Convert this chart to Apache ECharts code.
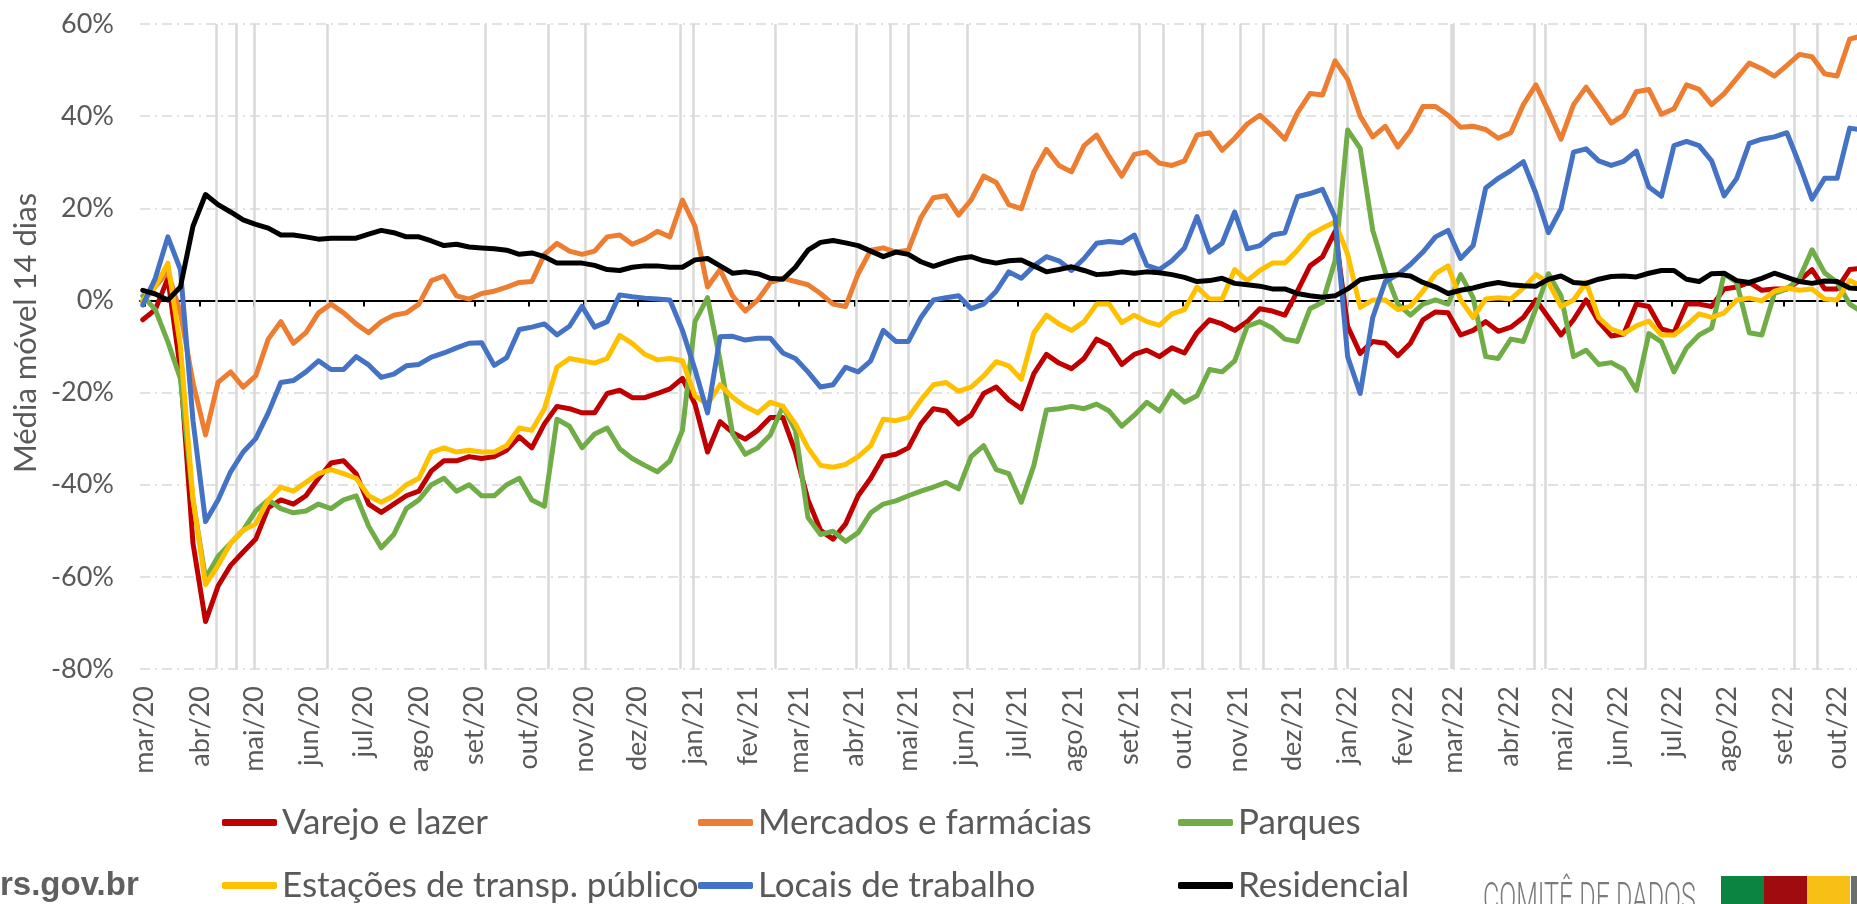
<!DOCTYPE html>
<html>
<head>
<meta charset="utf-8">
<title>Mobilidade RS - média móvel 14 dias</title>
<script src="https://cdn.jsdelivr.net/npm/echarts@6.0.0/dist/echarts.min.js"></script>
<style>
  html, body { margin: 0; padding: 0; background: #fff; }
  #grafico { width: 1857px; height: 904px; }
</style>
</head>
<body>
<div id="grafico"></div>
<script>
// primeira data da média móvel e espaçamento (semanal) dos pontos lidos
const inicio = '2020-02-29';
const passoDias = 7;

const rotulosMeses = ['mar/20', 'abr/20', 'mai/20', 'jun/20', 'jul/20', 'ago/20', 'set/20', 'out/20', 'nov/20', 'dez/20',
  'jan/21', 'fev/21', 'mar/21', 'abr/21', 'mai/21', 'jun/21', 'jul/21', 'ago/21', 'set/21', 'out/21', 'nov/21', 'dez/21',
  'jan/22', 'fev/22', 'mar/22', 'abr/22', 'mai/22', 'jun/22', 'jul/22', 'ago/22', 'set/22', 'out/22'];

// feriados (linhas verticais cinzas)
const feriados = ['2020-04-10', '2020-04-21', '2020-05-01', '2020-06-11', '2020-09-07', '2020-10-12', '2020-11-02',
  '2020-12-25', '2021-01-01', '2021-02-16', '2021-04-02', '2021-04-21', '2021-05-01', '2021-06-03', '2021-09-07',
  '2021-09-20', '2021-10-12', '2021-11-02', '2021-11-15', '2021-12-25', '2022-01-01', '2022-02-28', '2022-03-01',
  '2022-04-15', '2022-04-21', '2022-06-16', '2022-09-07', '2022-09-20'];

const varejo = [-4.2, -2, 4.8, -15, -52.7, -69.7, -62, -57.5, -54.6, -51.8, -45, -43.3, -44.2, -42.4, -38.6, -35.3,
  -34.8, -37.6, -44.2, -46, -44.2, -42.4, -41.4, -37, -34.8, -34.8, -33.9, -34.3, -33.9, -32.5, -29.6, -32,
  -26.8, -23, -23.5, -24.4, -24.4, -20.2, -19.5, -21.1, -21.1, -20.2, -19.2, -16.9, -22.5, -32.9, -26.3, -28.7,
  -30.1, -28.2, -25.4, -25.4, -32.9, -43.3, -49.9, -51.8, -48.5, -42.4, -38.6, -33.9, -33.4, -32, -26.8, -23.5,
  -24, -26.8, -24.9, -20.2, -18.8, -21.6, -23.5, -15.9, -11.7, -13.6, -14.8, -12.6, -8.4, -9.8, -13.9, -11.7,
  -10.8, -12.2, -10.3, -11.4, -7, -4.2, -5.1, -6.5, -4.6, -1.8, -2.3, -3.2, 2, 7.5, 9.5, 15, -5.6, -11.5,
  -8.9, -9.3, -12, -9.3, -4.2, -2.5, -2.7, -7.5, -6.5, -4.6, -6.7, -5.8, -3.7, 0.1, -3.7, -7.5, -4.2, 0.1,
  -4.6, -7.7, -7.3, -0.8, -1.3, -6.2, -7, -0.8, -0.8, -1.3, 2.5, 2.9, 3.9, 2.2, 2.5, 2.5, 4.3, 6.7, 2.5, 2.5,
  6.7, 7];

const mercados = [-0.4, 3, 6.2, -2.7, -17.8, -29.2, -17.8, -15.5, -18.8, -16.4, -8.4, -4.6, -9.3, -7, -2.7, -0.8,
  -2.7, -5.1, -7, -4.6, -3.2, -2.7, -0.8, 4.3, 5.3, 1, 0.3, 1.5, 2, 2.9, 3.9, 4.1, 10, 12.4, 10.7, 10, 10.7,
  13.8, 14.2, 12.2, 13.3, 15, 13.8, 21.8, 16.1, 2.9, 6.7, 1, -2.3, 0.1, 3.9, 4.8, 4.1, 3.4, 1.5, -0.8, -1.3,
  5.8, 10.9, 11.4, 10.5, 10.9, 18, 22.3, 22.7, 18.5, 21.8, 27, 25.6, 20.8, 19.9, 27.9, 32.8, 29.3, 27.9, 33.6,
  35.9, 31.2, 27, 31.7, 32.2, 29.8, 29.3, 30.3, 35.9, 36.4, 32.6, 35.2, 38.3, 40.2, 37.8, 35, 40.7, 44.9, 44.6,
  52, 48, 40, 35.5, 37.8, 33.3, 36.9, 42.1, 42.1, 40.2, 37.6, 37.8, 37.1, 35.2, 36.4, 42.5, 46.8, 41.1, 35,
  42.5, 46.3, 42.5, 38.5, 40.2, 45.3, 45.8, 40.4, 41.6, 46.8, 45.8, 42.5, 44.9, 48.2, 51.5, 50.3, 48.7, 51,
  53.4, 52.9, 49.2, 48.7, 56.7, 57.5];

const parques = [1, -2, -9, -17, -43.3, -60.3, -55.6, -52.7, -49.9, -45.7, -43.3, -45.2, -46.1, -45.7, -44.2, -45.2,
  -43.3, -42.4, -49, -53.7, -50.8, -45.2, -43.3, -40, -38.6, -41.4, -40, -42.4, -42.4, -40, -38.6, -43.3,
  -44.7, -25.8, -27.3, -32, -29, -27.7, -32.2, -34.3, -35.8, -37.2, -34.8, -28.2, -4.6, 0.6, -13.1, -29,
  -33.4, -32, -29.2, -23, -28.2, -47.1, -50.8, -50.1, -52.3, -50.4, -46.1, -44.2, -43.5, -42.4, -41.4, -40.5,
  -39.5, -40.9, -33.9, -31.5, -36.7, -37.6, -43.8, -35.8, -23.8, -23.5, -23, -23.5, -22.5, -24, -27.3, -24.9,
  -22.1, -24, -19.7, -22.1, -20.7, -15, -15.5, -13.1, -5.6, -4.6, -6, -8.4, -8.9, -1.8, -0.4, 8.6, 37, 33,
  15.2, 6.2, -0.8, -3.2, -0.8, 0.1, -0.8, 5.6, 0.6, -12.2, -12.6, -8.4, -8.9, -1.8, 5.8, 1, -12.2, -10.8,
  -13.9, -13.5, -15, -19.5, -7.2, -9, -15.5, -10.3, -7.5, -6, 5.8, 3.9, -7, -7.5, 1.5, 2.5, 4.8, 11, 6, 3.9,
  -0.8, -2.5];

const estacoes = [0, 3, 8.1, -10, -43, -61.7, -57.5, -52.7, -49.9, -48.5, -43.3, -40.5, -41.4, -39.5, -37.6, -36.7,
  -37.6, -38.6, -42.4, -43.8, -42.4, -40, -38.6, -33, -32, -32.9, -32.5, -32.9, -32.9, -31.5, -27.7, -28.2,
  -23.5, -14.5, -12.6, -13.1, -13.6, -12.6, -7.6, -9.3, -11.7, -12.9, -12.6, -13.1, -20.7, -22.5, -18.3, -21,
  -23, -24.4, -22.1, -23, -26.8, -32, -35.8, -36.2, -35.6, -33.9, -31.5, -25.8, -26.1, -25.4, -21.6, -18.3,
  -17.8, -19.7, -18.8, -16.4, -13.3, -14.2, -17.1, -7, -3.2, -5.1, -6.5, -4.6, -0.8, -0.8, -4.8, -3.2, -4.6,
  -5.4, -2.9, -2, 2.9, 0.3, 0.3, 6.7, 4.3, 6.5, 8.1, 8.1, 10.9, 14.2, 15.7, 17, 10, -1.5, 0.1, 0.1, -2, -1.3,
  2, 5.8, 7.5, 0.1, -3.7, 0.3, 0.6, 0.3, 2.7, 5.6, 3.9, -1.3, 0.1, 3.9, -3.7, -6.2, -7.2, -5.5, -4.5, -7.5,
  -7.5, -5.4, -2.9, -3.7, -2.7, 0.1, 0.5, -0.1, 2, 2.7, 2.2, 2.5, 0.3, 0.1, 4.3, 3];

const locais = [-1, 4.8, 13.8, 6.7, -26, -48, -43.3, -37.2, -32.9, -30, -24.4, -17.8, -17.4, -15.5, -13.1, -15, -15,
  -12.2, -14, -16.7, -16, -14.2, -13.9, -12.3, -11.4, -10.3, -9.3, -9.2, -14.1, -12.4, -6.3, -5.8, -5.1, -7.5,
  -5.6, -1.3, -5.8, -4.6, 1.2, 0.8, 0.5, 0.3, 0.1, -6.5, -15, -24.4, -7.9, -7.8, -8.6, -8.2, -8.2, -11.4,
  -12.6, -15.5, -18.8, -18.3, -14.5, -15.5, -13.1, -6.5, -8.9, -8.9, -3.7, 0.1, 0.6, 1, -1.8, -0.8, 2, 6.2,
  4.8, 7.5, 9.5, 8.6, 6.5, 9.1, 12.4, 12.8, 12.5, 14.2, 7.6, 6.7, 8.6, 11.4, 18.2, 10.5, 12.4, 19.2, 11.2,
  11.9, 14.2, 14.7, 22.5, 23.2, 24.1, 18, -12.2, -20.2, -3.7, 4.1, 5.6, 7.8, 10.5, 13.8, 15.2, 9.1, 11.9,
  24.4, 26.5, 28.2, 30.1, 23.2, 14.7, 19.9, 32.2, 32.9, 30.3, 29.3, 30.2, 32.4, 24.6, 22.6, 33.6, 34.5, 33.6,
  30.3, 22.7, 26.5, 34.1, 35, 35.5, 36.4, 29.5, 22, 26.5, 26.5, 37.4, 37];

const residencial = [2.2, 1.4, 0.1, 2.9, 16.1, 23, 20.8, 19.2, 17.5, 16.5, 15.7, 14.2, 14.2, 13.8, 13.3, 13.5, 13.5,
  13.5, 14.4, 15.2, 14.7, 13.8, 13.8, 12.9, 11.9, 12.2, 11.6, 11.4, 11.2, 10.9, 10, 10.3, 9.5, 8.1, 8.1, 8.1,
  7.6, 6.7, 6.5, 7.2, 7.5, 7.5, 7.2, 7.2, 8.8, 9.1, 7.5, 5.9, 6.2, 5.8, 4.8, 4.6, 7.2, 10.9, 12.6, 13, 12.5,
  11.9, 10.7, 9.5, 10.5, 10, 8.4, 7.4, 8.3, 9.1, 9.5, 8.6, 8.1, 8.6, 8.8, 7.5, 6.2, 6.7, 7.3, 6.5, 5.6, 5.8,
  6.2, 5.9, 6.2, 6, 5.6, 5, 4.1, 4.3, 4.8, 3.7, 3.4, 3.1, 2.5, 2.5, 1.5, 1, 0.7, 1, 2.5, 4.5, 5, 5.3, 5.6,
  5.3, 3.9, 2.9, 1.5, 2.2, 2.7, 3.4, 3.9, 3.4, 3.2, 3.1, 4.6, 5.3, 3.9, 3.7, 4.6, 5.2, 5.3, 5.1, 5.9, 6.5,
  6.5, 4.6, 4.1, 5.8, 5.9, 4.3, 3.9, 4.8, 5.9, 5, 4.1, 3.7, 4.2, 4.1, 2.7, 2.5];

const nomes = ['Varejo e lazer', 'Mercados e farmácias', 'Parques',
  'Estações de transp. público', 'Locais de trabalho', 'Residencial'];
const cores = ['#C00000', '#ED7D31', '#70AD47', '#FFC000', '#4472C4', '#000000'];
const valores = [varejo, mercados, parques, estacoes, locais, residencial];

const mesesPt = { jan: 0, fev: 1, mar: 2, abr: 3, mai: 4, jun: 5, jul: 6, ago: 7, set: 8, out: 9, nov: 10, dez: 11 };
const DIA = 864e5;

function dataUTC(s) {
  const p = s.split('-');
  return Date.UTC(+p[0], +p[1] - 1, +p[2]);
}

const ticksMes = rotulosMeses.map(function (r) {
  const partes = r.split('/');
  return Date.UTC(2000 + Number(partes[1]), mesesPt[partes[0]], 1);
});

const datas = varejo.map(function (_, i) { return dataUTC(inicio) + i * passoDias * DIA; });

// janela do eixo (o gráfico original está cortado na borda direita)
const xMin = Date.UTC(2020, 1, 27, 11);
const xMax = Date.UTC(2022, 9, 12, 2);

function rotuloDoTick(v) {
  let melhor = 0;
  for (let i = 1; i < ticksMes.length; i++) {
    if (Math.abs(ticksMes[i] - v) < Math.abs(ticksMes[melhor] - v)) melhor = i;
  }
  return rotulosMeses[melhor];
}

const corTexto = '#595959';
const posLegenda = [[222, 805], [698, 805], [1178, 805], [222, 868], [698, 868], [1178, 868]];

const chart = echarts.init(document.getElementById('grafico'));

const series = valores.map(function (vals, i) {
  const s = {
    name: nomes[i],
    type: 'line',
    xAxisIndex: 0,
    showSymbol: false,
    symbol: 'none',
    lineStyle: { color: cores[i], width: 5, join: 'round', cap: 'round' },
    itemStyle: { color: cores[i] },
    data: vals.map(function (v, k) { return [datas[k], v]; })
  };
  if (i === 0) {
    s.markLine = {
      silent: true,
      z: 1,
      symbol: 'none',
      label: { show: false },
      lineStyle: { color: '#D9D9D9', width: 2.5, type: 'solid' },
      data: feriados.map(function (d) { return { xAxis: dataUTC(d) }; })
    };
  }
  return s;
});

// eixo x numérico (milissegundos) com ticks mensais fixos
const option = {
  animation: false,
  backgroundColor: '#fff',
  grid: { left: 140, right: 0, top: 24, bottom: 235, containLabel: false },
  xAxis: [
    {
      type: 'value',
      min: xMin,
      max: xMax,
      axisLine: { show: false, onZero: false },
      axisTick: { show: false },
      splitLine: { show: false },
      axisLabel: {
        customValues: ticksMes,
        rotate: 90,
        margin: 17,
        color: corTexto,
        fontFamily: 'Lato',
        fontSize: 27,
        formatter: rotuloDoTick
      }
    },
    {
      type: 'value',
      min: xMin,
      max: xMax,
      position: 'bottom',
      axisLine: { show: true, onZero: true, lineStyle: { color: '#000', width: 2 } },
      axisTick: { show: true, customValues: ticksMes, length: 6, lineStyle: { color: '#000', width: 2 } },
      axisLabel: { show: false },
      splitLine: { show: false }
    }
  ],
  yAxis: {
    type: 'value',
    min: -80,
    max: 60,
    interval: 20,
    axisLine: { show: false },
    axisTick: { show: false },
    axisLabel: {
      formatter: '{value}%',
      color: corTexto,
      fontFamily: 'Lato',
      fontSize: 27,
      margin: 26
    },
    splitLine: { lineStyle: { color: '#D9D9D9', width: 1.5, type: [10, 5, 2, 5] } }
  },
  legend: nomes.map(function (n, i) {
    return {
      data: [n],
      left: posLegenda[i][0],
      top: posLegenda[i][1],
      padding: 0,
      icon: 'roundRect',
      itemWidth: 55,
      itemHeight: 7,
      selectedMode: false,
      textStyle: { color: corTexto, fontFamily: 'Lato', fontSize: 35 }
    };
  }),
  graphic: [
    {
      type: 'text', x: 26, y: 333, rotation: Math.PI / 2,
      style: { text: 'Média móvel 14 dias', fill: corTexto, font: '31px Lato', align: 'center', verticalAlign: 'middle' }
    },
    {
      type: 'text', x: 0, y: 886,
      style: { text: 'rs.gov.br', fill: '#5f5f5f', font: 'bold 33px "Liberation Sans"', align: 'left', verticalAlign: 'middle' }
    },
    {
      type: 'text', x: 1483, y: 880, scaleX: 0.595,
      style: { text: 'COMITÊ DE DADOS', fill: '#7a7a7a', font: '300 42px Roboto', align: 'left', verticalAlign: 'top' }
    },
    { type: 'rect', shape: { x: 1721, y: 876, width: 43, height: 28 }, style: { fill: '#0B8442' } },
    { type: 'rect', shape: { x: 1764, y: 876, width: 43, height: 28 }, style: { fill: '#A00B0F' } },
    { type: 'rect', shape: { x: 1807, y: 876, width: 43, height: 28 }, style: { fill: '#F8BF14' } },
    { type: 'rect', shape: { x: 1851, y: 876, width: 6, height: 28 }, style: { fill: '#6d6d6d' } }
  ],
  series: series
};

chart.setOption(option);
</script>
</body>
</html>
